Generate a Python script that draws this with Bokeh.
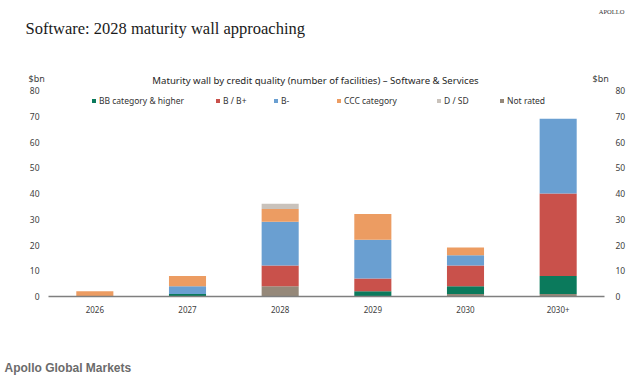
from bokeh.plotting import figure
from bokeh.layouts import column
from bokeh.models import (ColumnDataSource, FactorRange, Range1d, LinearAxis, Label,
                          Legend, LegendItem, SingleIntervalTicker)
from bokeh.embed import file_html
from bokeh.resources import INLINE

years = ["2026", "2027", "2028", "2029", "2030", "2030+"]
not_rated = [0, 0, 4, 0, 1, 1]
bb_higher = [0, 1, 0, 2, 3, 7]
b_bplus = [0, 0, 8, 5, 8, 32]
b_minus = [0, 3, 17, 15, 4, 29]
ccc = [2, 4, 5, 10, 3, 0]
d_sd = [0, 0, 2, 0, 0, 0]

series = ["not_rated", "bb", "b_bplus", "b_minus", "ccc", "d_sd"]
names = {"bb": "BB category & higher", "b_bplus": "B / B+", "b_minus": "B-",
         "ccc": "CCC category", "d_sd": "D / SD", "not_rated": "Not rated"}
colors = {"not_rated": "#958879", "bb": "#0b7a5c", "b_bplus": "#c9514b",
          "b_minus": "#6a9fd1", "ccc": "#ec9c62", "d_sd": "#c9c2bb"}

source = ColumnDataSource(dict(year=years, not_rated=not_rated, bb=bb_higher,
                               b_bplus=b_bplus, b_minus=b_minus, ccc=ccc, d_sd=d_sd))

FONT = "Noto Sans"
W = 636
TOP_H = 86
MAIN_H = 244
FOOT_H = 47


def text_fig(h, y0):
    f = figure(width=W, height=h, x_range=Range1d(0, W), y_range=Range1d(y0 + h, y0),
               output_backend="svg", toolbar_location=None,
               x_axis_location=None, y_axis_location=None,
               min_border=0, min_border_left=0, min_border_right=0,
               min_border_top=0, min_border_bottom=0, frame_align=False)
    f.outline_line_color = None
    f.grid.visible = False
    return f


def lab(f, text, x, y, size, font=FONT, align="left", color="#262626", style="normal"):
    f.add_layout(Label(x=x, y=y, text=text, text_font=font, text_font_size=size,
                       text_align=align, text_baseline="middle", text_color=color,
                       text_font_style=style))


# header
top = text_fig(TOP_H, 0)
lab(top, "Software: 2028 maturity wall approaching", 25, 28, "16.5px",
    font="Liberation Serif", color="#1a1a1a")
lab(top, "APOLLO", 611, 11, "6.5px", font="Liberation Serif", align="center",
    color="#333333")
lab(top, "Maturity wall by credit quality (number of facilities) \u2013 Software & Services",
    315, 80, "9.6px", align="center")
lab(top, "$bn", 28, 78, "9px", color="#404040")
lab(top, "$bn", 592, 78, "9px", color="#404040")

# main chart
frame_h = 296 - TOP_H
p = figure(width=W, height=MAIN_H, x_range=FactorRange(*years, range_padding=0),
           y_range=Range1d(0, 80 * frame_h / 206), output_backend="svg",
           toolbar_location=None, min_border_left=48, min_border_right=W - 48 - 556,
           min_border_top=0, min_border_bottom=MAIN_H - frame_h, frame_align=False)
p.outline_line_color = None
p.grid.grid_line_color = None

rends = p.vbar_stack(series, x="year", width=0.4, source=source,
                     color=[colors[s] for s in series], line_color=None)
rmap = dict(zip(series, rends))

p.xaxis.axis_line_color = "#7f7f7f"
p.xaxis.axis_line_width = 1.5
p.xaxis.major_tick_line_color = None
p.xaxis.minor_tick_line_color = None
p.xaxis.major_label_standoff = 3
p.xaxis.major_label_text_font = FONT
p.xaxis.major_label_text_font_size = "8px"
p.xaxis.major_label_text_color = "#404040"

p.yaxis.ticker = SingleIntervalTicker(interval=10)
p.yaxis.axis_line_color = None
p.yaxis.major_tick_line_color = None
p.yaxis.minor_tick_line_color = None
p.yaxis.major_label_standoff = 3
p.yaxis.major_label_text_font = FONT
p.yaxis.major_label_text_font_size = "8.5px"
p.yaxis.major_label_text_color = "#404040"

ry = LinearAxis(ticker=SingleIntervalTicker(interval=10), axis_line_color=None,
                major_tick_line_color=None, minor_tick_line_color=None,
                major_label_standoff=5, major_label_text_font=FONT,
                major_label_text_font_size="8.5px", major_label_text_color="#404040")
p.add_layout(ry, "right")

leg_x = {"bb": 43, "b_bplus": 167, "b_minus": 225, "ccc": 288, "d_sd": 388, "not_rated": 451}
for key in ["bb", "b_bplus", "b_minus", "ccc", "d_sd", "not_rated"]:
    lg = Legend(items=[LegendItem(label=names[key], renderers=[rmap[key]])],
                location=(leg_x[key], 190), orientation="horizontal",
                padding=0, margin=0, spacing=0, border_line_color=None,
                background_fill_alpha=0, glyph_width=5, glyph_height=5,
                label_standoff=3, label_height=10, label_text_font=FONT,
                label_text_font_size="8.5px", label_text_color="#333333")
    p.add_layout(lg, "center")

# footer
foot = text_fig(FOOT_H, TOP_H + MAIN_H)
lab(foot, "Apollo Global Markets", 4, 367, "12px", font="Liberation Sans",
    color="#6b6b6b", style="bold")

layout = column(top, p, foot, spacing=0)
open("out.html", "w").write(file_html(layout, INLINE))
